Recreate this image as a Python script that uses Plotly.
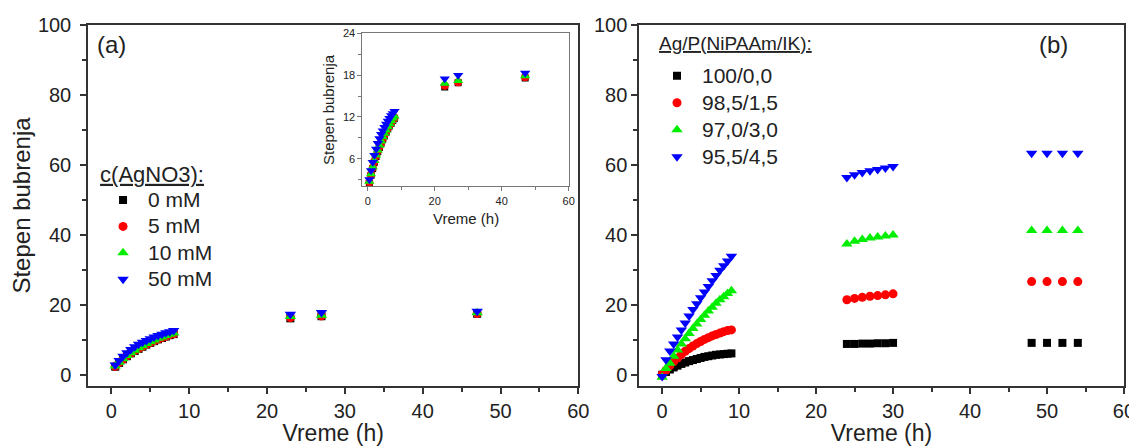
import plotly.graph_objects as go

# ---------------- Data: panel (a) ----------------
t_a = [0.5, 1, 1.5, 2, 2.5, 3, 3.5, 4, 4.5, 5, 5.5, 6, 6.5, 7, 7.5, 8, 23, 27, 47]
a_names = ["0 mM", "5 mM", "10 mM", "50 mM"]
a_0mM = [2.5, 3.6, 4.6, 5.5, 6.3, 7.0, 7.6, 8.2, 8.8, 9.3, 9.8, 10.3, 10.7, 11.1, 11.5, 11.8, 16.3, 16.9, 17.6]
a_5mM = [2.6, 3.7, 4.7, 5.6, 6.4, 7.1, 7.7, 8.3, 8.9, 9.4, 9.9, 10.4, 10.8, 11.2, 11.6, 11.9, 16.5, 17.0, 17.7]
a_10mM = [2.7, 3.8, 4.8, 5.7, 6.5, 7.2, 7.9, 8.5, 9.1, 9.6, 10.1, 10.6, 11.0, 11.4, 11.8, 12.1, 16.8, 17.2, 17.9]
a_50mM = [3.0, 4.3, 5.5, 6.5, 7.4, 8.2, 8.9, 9.5, 10.0, 10.5, 11.0, 11.4, 11.8, 12.2, 12.5, 12.8, 17.5, 18.0, 18.3]

# ---------------- Data: panel (b) ----------------
t_b = [0, 0.5, 1, 1.5, 2, 2.5, 3, 3.5, 4, 4.5, 5, 5.5, 6, 6.5, 7, 7.5, 8, 8.5, 9,
       24, 25, 26, 27, 28, 29, 30, 48, 50, 52, 54]
b_names = ["100/0,0", "98,5/1,5", "97,0/3,0", "95,5/4,5"]
b_100 = [0.2, 1.0, 1.7, 2.3, 2.8, 3.3, 3.7, 4.1, 4.4, 4.7, 5.0, 5.3, 5.5, 5.7, 5.9, 6.0, 6.1, 6.2, 6.3,
         9.0, 9.0, 9.1, 9.1, 9.2, 9.2, 9.3, 9.3, 9.3, 9.3, 9.3]
b_985 = [0.3, 1.5, 2.8, 4.0, 5.0, 6.0, 6.9, 7.7, 8.4, 9.1, 9.7, 10.3, 10.8, 11.3, 11.7, 12.1, 12.5, 12.8, 13.0,
         21.6, 22.0, 22.3, 22.6, 22.8, 23.0, 23.3, 26.8, 26.8, 26.8, 26.8]
b_970 = [-0.5, 2.0, 3.5, 5.5, 7.3, 9.0, 10.5, 12.0, 13.4, 14.7, 16.0, 17.2, 18.4, 19.5, 20.6, 21.6, 22.5, 23.4, 24.2,
         37.5, 38.3, 38.8, 39.2, 39.5, 39.8, 40.1, 41.4, 41.4, 41.4, 41.4]
b_955 = [-0.3, 4.5, 7.0, 9.0, 11.0, 13.0, 15.0, 17.0, 18.8, 20.5, 22.2, 23.8, 25.4, 27.0, 28.5, 30.0, 31.3, 32.7, 34.0,
         56.5, 57.3, 57.9, 58.4, 58.8, 59.2, 59.6, 63.4, 63.4, 63.4, 63.4]

colors = ["#000000", "#ff0000", "#00ee00", "#0000ff"]
symbols = ["square", "circle", "triangle-up", "triangle-down"]
sizes_main = [8, 9, 10, 10]
sizes_inset = [7, 8, 9, 9]

FONT = "Arial, Liberation Sans, sans-serif"


def big(label, px=21):
    return '<span style="font-size:%dpx">%s</span>' % (px, label)


fig = go.Figure()

a_series = [a_0mM, a_5mM, a_10mM, a_50mM]
for name, ys, c, s, sz in zip(a_names, a_series, colors, symbols, sizes_main):
    fig.add_trace(go.Scatter(x=t_a, y=ys, mode="markers", name=big(name),
                             marker=dict(color=c, symbol=s, size=sz, line=dict(width=0)),
                             xaxis="x", yaxis="y", legend="legend"))

for name, ys, c, s, sz in zip(a_names, a_series, colors, symbols, sizes_inset):
    fig.add_trace(go.Scatter(x=t_a, y=ys, mode="markers", name=name, showlegend=False,
                             marker=dict(color=c, symbol=s, size=sz, line=dict(width=0)),
                             xaxis="x3", yaxis="y3"))

b_series = [b_100, b_985, b_970, b_955]
for name, ys, c, s, sz in zip(b_names, b_series, colors, symbols, sizes_main):
    fig.add_trace(go.Scatter(x=t_b, y=ys, mode="markers", name=big(name),
                             marker=dict(color=c, symbol=s, size=sz, line=dict(width=0)),
                             xaxis="x2", yaxis="y2", legend="legend2"))

axis_common = dict(showline=True, linecolor="#333333", linewidth=1.5, mirror=True,
                   ticks="outside", ticklen=6, tickwidth=1.5, tickcolor="#333333",
                   showgrid=False, zeroline=False, automargin=False,
                   tickfont=dict(family=FONT, size=20, color="#222222"))

inset_common = dict(showline=True, linecolor="#777777", linewidth=1, mirror=True,
                    ticks="outside", ticklen=4, tickwidth=1, tickcolor="#777777",
                    showgrid=False, zeroline=False, automargin=False,
                    tickfont=dict(family=FONT, size=11, color="#222222"))

# page body has an 8px default margin; figure sized/offset so the plot areas land where the reference has them
fig.update_layout(
    width=1129, height=438,
    margin=dict(l=80, r=13, t=17, b=59.5),
    paper_bgcolor="white", plot_bgcolor="white",
    font=dict(family=FONT, color="#222222"),
    xaxis=dict(domain=[0, 0.4733], range=[-3, 60], dtick=10, anchor="y",
               minor=dict(dtick=5, ticks="outside", ticklen=4, tickcolor="#333333"),
               title=dict(text="Vreme (h)", font=dict(family=FONT, size=23), standoff=0),
               **axis_common),
    yaxis=dict(domain=[0, 1], range=[-3, 100], dtick=20, anchor="x",
               ticklabelstandoff=5,
               minor=dict(dtick=10, ticks="outside", ticklen=4, tickcolor="#333333"),
               title=dict(text="Stepen bubrenja", font=dict(family=FONT, size=24), standoff=2),
               **axis_common),
    xaxis2=dict(domain=[0.5319, 1], range=[-3, 60], dtick=10, anchor="y2",
                minor=dict(dtick=5, ticks="outside", ticklen=4, tickcolor="#333333"),
                title=dict(text="Vreme (h)", font=dict(family=FONT, size=23), standoff=0),
                **axis_common),
    yaxis2=dict(domain=[0, 1], range=[-3, 100], dtick=20, anchor="x2",
                minor=dict(dtick=10, ticks="outside", ticklen=4, tickcolor="#333333"),
                **axis_common),
    xaxis3=dict(domain=[0.2648, 0.464], range=[-1.6, 60], dtick=20, anchor="y3",
                minor=dict(dtick=10, ticks="outside", ticklen=3, tickcolor="#777777"),
                **inset_common),
    yaxis3=dict(domain=[0.5527, 0.9765], range=[2, 24], dtick=6, tick0=0, anchor="x3",
                minor=dict(dtick=3, ticks="outside", ticklen=3, tickcolor="#777777"),
                title=dict(text="Stepen bubrenja", font=dict(family=FONT, size=15), standoff=4),
                **inset_common),
    legend=dict(x=0.0097, y=0.6376, xanchor="left", yanchor="top", itemwidth=40,
                bgcolor="rgba(0,0,0,0)", tracegroupgap=0,
                font=dict(family=FONT, size=18, color="#222222"),
                title=dict(text="<u>" + big("c(AgNO3):", 22) + "</u>",
                           font=dict(family=FONT, size=20, color="#222222"))),
    legend2=dict(x=0.5444, y=0.911, xanchor="left", yanchor="top", itemwidth=40,
                 bgcolor="rgba(0,0,0,0)", tracegroupgap=0,
                 font=dict(family=FONT, size=18.5, color="#222222")),
    annotations=[
        dict(text="<u>Ag/P(NiPAAm/IK):</u>", xref="paper", yref="paper", x=0.549, y=0.950,
             xanchor="left", yanchor="middle", showarrow=False,
             font=dict(family=FONT, size=19, color="#222222")),
        dict(text="Vreme (h)", xref="paper", yref="paper", x=(0.2648 + 0.464) / 2, y=0.4633,
             xanchor="center", yanchor="middle", showarrow=False,
             font=dict(family=FONT, size=15, color="#222222")),
        dict(text="(a)", xref="paper", yref="paper", x=0.007, y=0.9447,
             xanchor="left", yanchor="middle", showarrow=False,
             font=dict(family=FONT, size=24, color="#222222")),
        dict(text="(b)", xref="paper", yref="paper", x=0.948, y=0.9447,
             xanchor="right", yanchor="middle", showarrow=False,
             font=dict(family=FONT, size=24, color="#222222")),
    ],
)

fig.write_html("out.html")
